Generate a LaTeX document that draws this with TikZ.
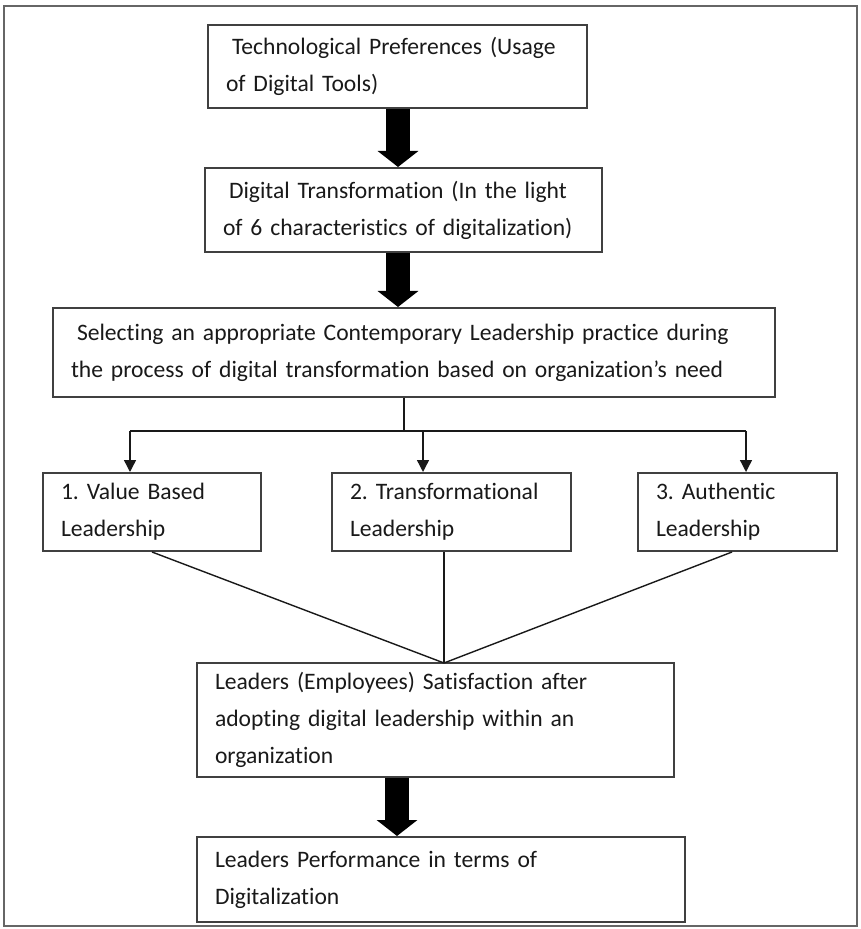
\documentclass[tikz,border=0pt]{standalone}
\usepackage{fontspec}
\setmainfont{Carlito}[Ligatures=NoCommon]
\usetikzlibrary{arrows.meta}
\usepackage{xcolor}
\frenchspacing

\tikzset{
  box/.style={draw=black!75, line width=1pt, inner xsep=9pt, inner ysep=0pt,
    align=left, text=black!90, font=\fontsize{11.8pt}{18.5pt}\selectfont},
  fatarrow/.style={line width=12pt, -{Triangle[width=20pt,length=8pt]}},
  thinarrow/.style={black!90, line width=0.7pt, -{Triangle[width=6pt,length=6pt]}},
  thinline/.style={black!90, line width=0.7pt}
}

\begin{document}
\begin{tikzpicture}[x=0.5pt,y=-0.5pt]
\useasboundingbox (0,0) rectangle (860,929);
\draw[black!60, line width=1pt] (4,6) rectangle (857,926);

\node[box, minimum width=189.5pt, text width=171.5pt, minimum height=41.5pt] (tech) at (397.5,66.5)
  {\hspace*{3pt}Technological Preferences (Usage\\of Digital Tools)};
\node[box, minimum width=198.5pt, text width=180.5pt, minimum height=42pt] (digi) at (403.5,210)
  {\hspace*{3pt}Digital Transformation (In the light\\of 6 characteristics of digitalization)};
\node[box, minimum width=361pt, text width=343pt, minimum height=44.5pt] (sel) at (414,352.5)
  {\hspace*{3pt}Selecting an appropriate Contemporary Leadership practice during\\the process of digital transformation based on organization’s need};

\node[box, minimum width=109pt, text width=91pt, minimum height=39pt] (val) at (152,512)
  {1. Value Based\\Leadership};
\node[box, minimum width=119.5pt, text width=101.5pt, minimum height=39pt] (trans) at (451.5,512)
  {2. Transformational\\Leadership};
\node[box, minimum width=99.5pt, text width=81.5pt, minimum height=39pt] (auth) at (737.5,512)
  {3. Authentic\\Leadership};

\node[box, minimum width=238.5pt, text width=220.5pt, minimum height=57pt] (sat) at (435.5,720)
  {Leaders (Employees) Satisfaction after\\adopting digital leadership within an\\organization};
\node[box, minimum width=244pt, text width=226pt, minimum height=42.5pt] (perf) at (441,879.5)
  {Leaders Performance in terms of\\Digitalization};

\draw[fatarrow] (tech.south -| 398,0) -- (digi.north -| 398,0);
\draw[fatarrow] (digi.south -| 398,0) -- (sel.north -| 398,0);
\draw[fatarrow] (sat.south -| 397,0) -- (perf.north -| 397,0);

\coordinate (split) at (404,431);
\coordinate (bar west) at (130,431);
\coordinate (bar mid) at (423,431);
\coordinate (bar east) at (746,431);
\draw[thinline] (sel.south -| split) -- (split);
\draw[thinline] (bar west) -- (bar east);
\draw[thinarrow] (bar west) -- (bar west |- val.north);
\draw[thinarrow] (bar mid) -- (bar mid |- trans.north);
\draw[thinarrow] (bar east) -- (bar east |- auth.north);

\coordinate (meet) at (444,663);
\draw[thinline] (val.south) -- (meet);
\draw[thinline] (trans.south -| meet) -- (meet);
\draw[thinline] (auth.south -| 732,0) -- (meet);
\end{tikzpicture}
\end{document}
